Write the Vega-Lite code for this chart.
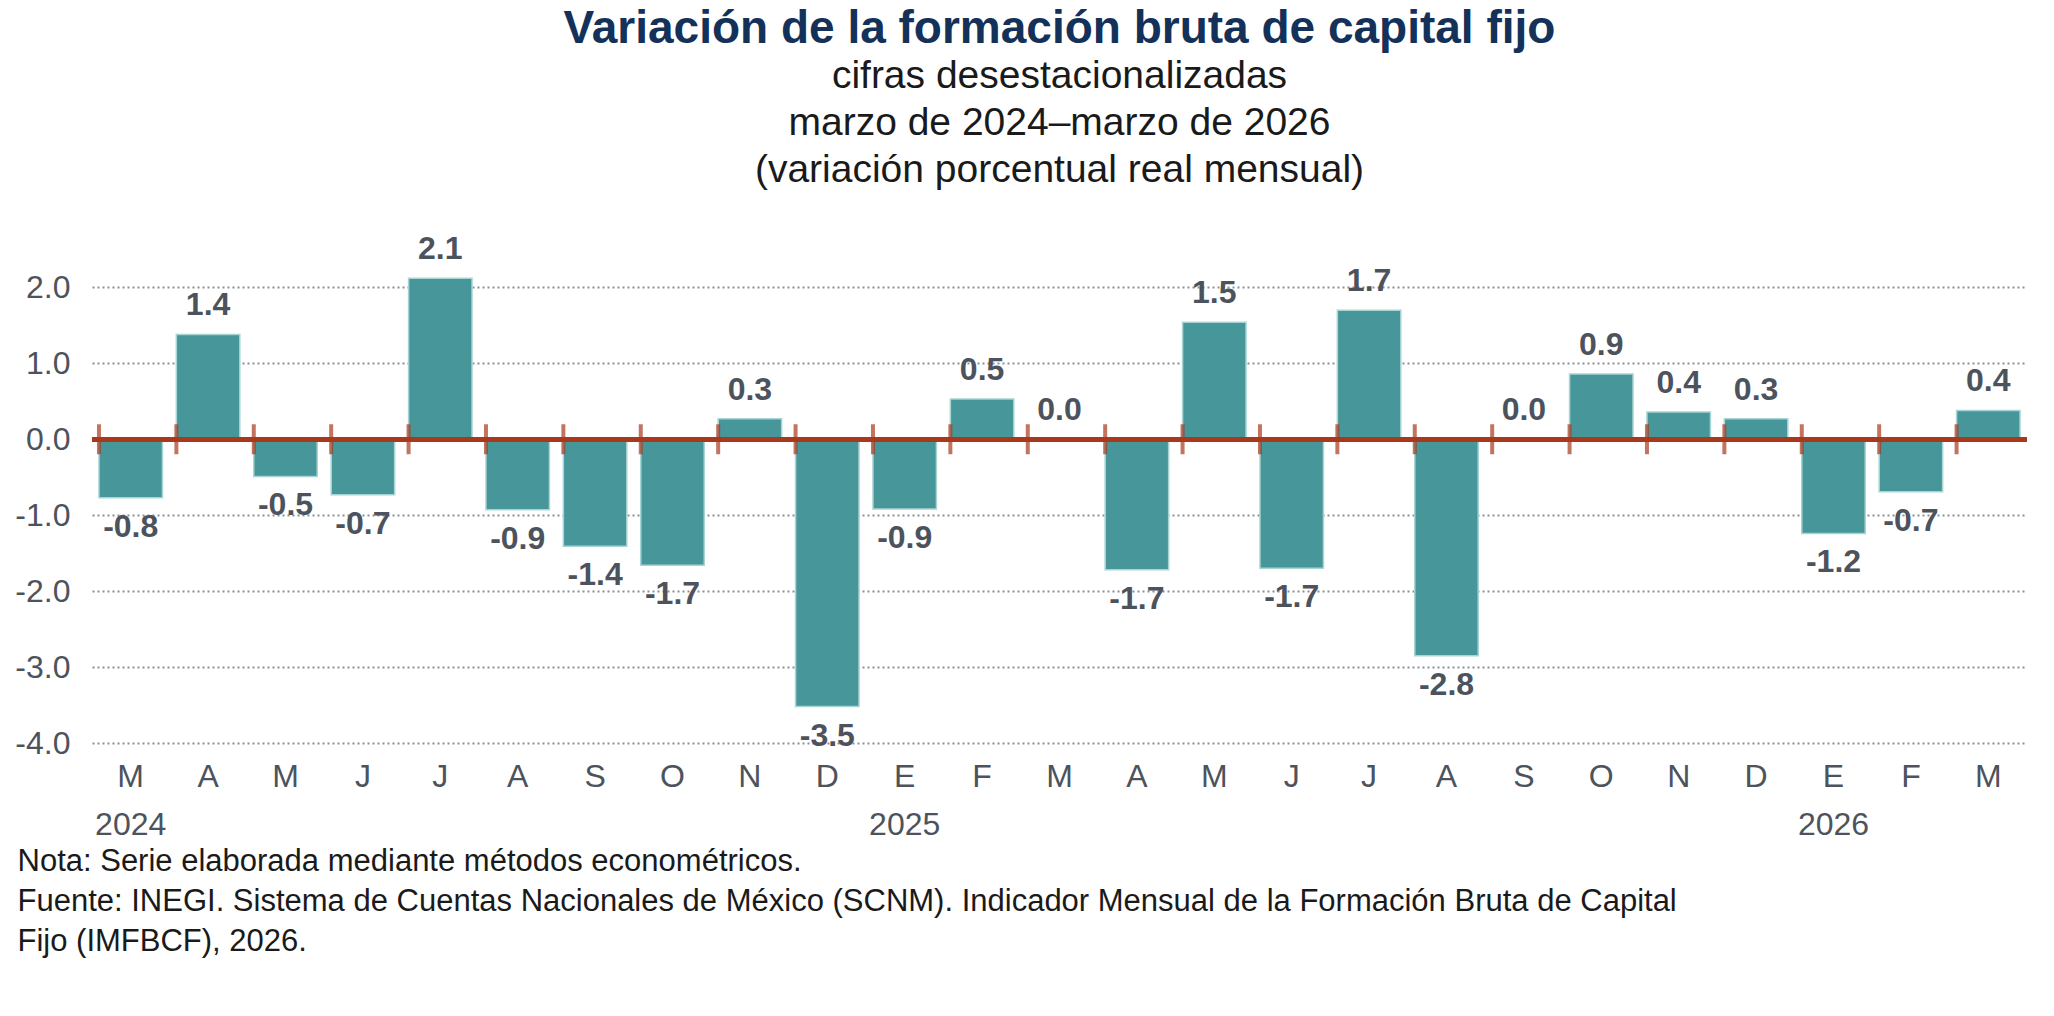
{"$schema":"https://vega.github.io/schema/vega-lite/v6.json","width":1935,"height":486,"padding":{"left":14,"top":6,"right":10,"bottom":5},"background":"white",
"title":{"text":"Variación de la formación bruta de capital fijo","subtitle":["cifras desestacionalizadas","marzo de 2024–marzo de 2026","(variación porcentual real mensual)"],"font":"Liberation Sans","fontSize":46,"fontWeight":"bold","color":"#14315a","subtitleFont":"Liberation Sans","subtitleFontSize":39,"subtitleColor":"#1a1a1a","subtitleLineHeight":47,"subtitlePadding":4,"offset":42,"anchor":"middle"},
"config":{"view":{"stroke":null},"font":"Liberation Sans"},
"data":{"values":[
{"i":0,"v":-0.77,"l":"-0.8"},{"i":1,"v":1.38,"l":"1.4"},{"i":2,"v":-0.49,"l":"-0.5"},{"i":3,"v":-0.73,"l":"-0.7"},{"i":4,"v":2.12,"l":"2.1"},{"i":5,"v":-0.93,"l":"-0.9"},{"i":6,"v":-1.41,"l":"-1.4"},{"i":7,"v":-1.66,"l":"-1.7"},{"i":8,"v":0.27,"l":"0.3"},{"i":9,"v":-3.52,"l":"-3.5"},{"i":10,"v":-0.92,"l":"-0.9"},{"i":11,"v":0.53,"l":"0.5"},{"i":12,"v":0.0,"l":"0.0"},{"i":13,"v":-1.72,"l":"-1.7"},{"i":14,"v":1.54,"l":"1.5"},{"i":15,"v":-1.7,"l":"-1.7"},{"i":16,"v":1.7,"l":"1.7"},{"i":17,"v":-2.85,"l":"-2.8"},{"i":18,"v":0.0,"l":"0.0"},{"i":19,"v":0.86,"l":"0.9"},{"i":20,"v":0.36,"l":"0.4"},{"i":21,"v":0.27,"l":"0.3"},{"i":22,"v":-1.24,"l":"-1.2"},{"i":23,"v":-0.69,"l":"-0.7"},{"i":24,"v":0.38,"l":"0.4"}]},
"encoding":{"x":{"field":"i","type":"ordinal","scale":{"paddingInner":0.18,"paddingOuter":0.09},"axis":{"labelExpr":"[split('M,A,M,J,J,A,S,O,N,D,E,F,M,A,M,J,J,A,S,O,N,D,E,F,M',',')[datum.value], datum.value==0?'2024':datum.value==10?'2025':datum.value==22?'2026':'']","labelAngle":0,"labelFontSize":32,"labelColor":"#4d535c","labelLineHeight":48,"labelPadding":18,"ticks":false,"domain":false,"title":["Nota:       Serie elaborada mediante métodos econométricos.","Fuente:   INEGI. Sistema de Cuentas Nacionales de México (SCNM). Indicador Mensual de la Formación Bruta de Capital","               Fijo (IMFBCF), 2026."],"titleFontSize":31,"titleFontWeight":"normal","titleColor":"#1a1a1a","titleAnchor":"start","titleAlign":"left","titleX":-75,"titleLineHeight":40,"titlePadding":6}}},
"layer":[
{"mark":{"type":"bar","color":"#46969a","stroke":"#a9d4d4","strokeWidth":1.5},"encoding":{"y":{"field":"v","type":"quantitative","scale":{"domain":[-4,2.4],"nice":false},"axis":{"values":[-4,-3,-2,-1,0,1,2],"labelExpr":"replace(format(datum.value,'.1f'),'−','-')","labelFontSize":32,"labelColor":"#4d535c","labelPadding":22,"ticks":false,"domain":false,"gridDash":[2,3],"gridColor":"#8a8f96","gridWidth":2,"title":null}},"y2":{"datum":0}}},
{"mark":{"type":"rule","color":"#a8391c","strokeWidth":4},"encoding":{"y":{"datum":0},"x":null}},
{"mark":{"type":"tick","orient":"vertical","color":"#a8391c","thickness":4,"size":30},"encoding":{"x":{"field":"i","type":"ordinal","bandPosition":0},"y":{"datum":0}}},
{"transform":[{"filter":"datum.v>=0"}],"mark":{"type":"text","fontSize":32,"fontWeight":"bold","color":"#4d535c","baseline":"bottom","dy":-12},"encoding":{"y":{"field":"v","type":"quantitative"},"text":{"field":"l"}}},
{"transform":[{"filter":"datum.v<0"}],"mark":{"type":"text","fontSize":32,"fontWeight":"bold","color":"#4d535c","baseline":"top","dy":14},"encoding":{"y":{"field":"v","type":"quantitative"},"text":{"field":"l"}}}
]}
